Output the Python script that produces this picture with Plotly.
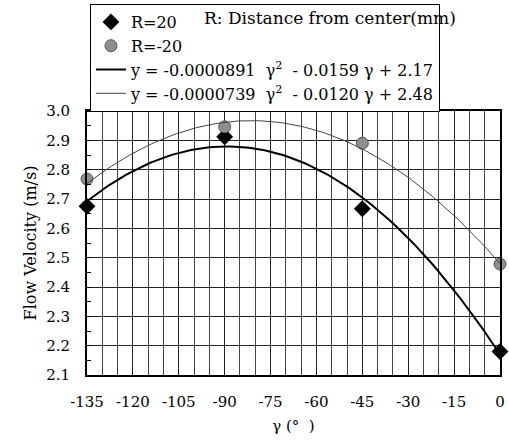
import numpy as np
import plotly.graph_objects as go

angles = [-135, -90, -45, 0]
r20_vel = [2.675, 2.912, 2.667, 2.18]
rm20_vel = [2.768, 2.946, 2.89, 2.478]

# Displayed trendline coefficients (a, b, c) for y = a*g^2 + b*g + c
fit_r20 = [-0.0000891, -0.0159, 2.17]
fit_rm20 = [-0.0000739, -0.0120, 2.48]
eq_r20 = "y = -0.0000891  γ<sup>2</sup>  - 0.0159 γ + 2.17"
eq_rm20 = "y = -0.0000739  γ<sup>2</sup>  - 0.0120 γ + 2.48"

x_ticks = [-135, -120, -105, -90, -75, -60, -45, -30, -15, 0]
y_ticks = [2.1, 2.2, 2.3, 2.4, 2.5, 2.6, 2.7, 2.8, 2.9, 3.0]

gx = np.linspace(-135, 0, 136)
FONT = "DejaVu Serif"

fig = go.Figure()
fig.add_trace(go.Scatter(x=angles, y=r20_vel, mode="markers", name="R=20",
                         marker=dict(symbol="diamond", size=13, color="black"),
                         cliponaxis=False))
fig.add_trace(go.Scatter(x=angles, y=rm20_vel, mode="markers", name="R=-20",
                         marker=dict(symbol="circle", size=12, color="#8f8f8f",
                                     line=dict(color="#555", width=1)),
                         cliponaxis=False))
fig.add_trace(go.Scatter(x=gx, y=np.polyval(fit_r20, gx), mode="lines", name=eq_r20,
                         line=dict(color="black", width=2)))
fig.add_trace(go.Scatter(x=gx, y=np.polyval(fit_rm20, gx), mode="lines", name=eq_rm20,
                         line=dict(color="#444", width=1)))

fig.add_annotation(text="R: Distance from center(mm)", xref="paper", yref="paper",
                   x=(203 - 87) / 418, y=(375 - 18) / 264, xanchor="left", yanchor="middle",
                   showarrow=False, font=dict(family=FONT, size=17, color="black"))

fig.update_layout(
    width=509, height=443,
    margin=dict(l=87, r=4, t=111, b=68),
    paper_bgcolor="white", plot_bgcolor="white",
    font=dict(family=FONT, size=14, color="black"),
    showlegend=True,
    legend=dict(x=(90 - 87) / 418, y=(375 - 4) / 264, xanchor="left", yanchor="top",
                bordercolor="black", borderwidth=1, bgcolor="white",
                font=dict(family=FONT, size=16), tracegroupgap=0,
                itemwidth=30),
    xaxis=dict(range=[-135, 0], tickvals=x_ticks, ticktext=[str(v) for v in x_ticks],
               showgrid=True, gridcolor="#222", gridwidth=1,
               minor=dict(dtick=5, tick0=0, showgrid=True, gridcolor="#444", gridwidth=1),
               showline=True, linecolor="black", linewidth=2, mirror=True,
               ticks="outside", ticklen=12, tickcolor="rgba(0,0,0,0)", zeroline=False,
               title=dict(text="γ (°  )", font=dict(family=FONT, size=15), standoff=10),
               tickfont=dict(family=FONT, size=15)),
    yaxis=dict(range=[2.1, 3.0], tickvals=y_ticks, ticktext=[f"{v:.1f}" for v in y_ticks],
               showgrid=True, gridcolor="#222", gridwidth=1,
               minor=dict(dtick=0.05, tick0=2.1, ticks="inside", ticklen=4, tickcolor="black"),
               showline=True, linecolor="black", linewidth=2, mirror=True,
               ticks="outside", ticklen=12, tickcolor="rgba(0,0,0,0)", zeroline=False,
               title=dict(text="Flow Velocity (m/s)", font=dict(family=FONT, size=16), standoff=6),
               tickfont=dict(family=FONT, size=15)),
)

fig.write_html("out.html")
